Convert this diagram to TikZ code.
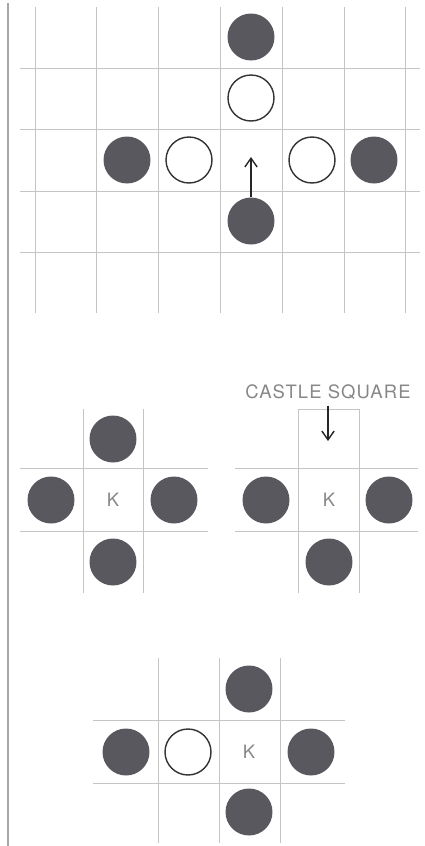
\documentclass[tikz,border=0pt]{standalone}
\usepackage{fontspec}
\usepackage{tikz}
\usetikzlibrary{positioning, arrows.meta}
\usepackage{xcolor}
\newfontfamily\boardfont[LetterSpace=6]{TeX Gyre Heros}
\definecolor{stonegray}{RGB}{88, 88, 94}
\definecolor{gridgray}{RGB}{196, 196, 196}
\definecolor{labelgray}{RGB}{135, 135, 135}

\begin{document}
\begin{tikzpicture}[x=0.02cm, y=-0.02cm, >={Straight Barb[length=5pt, width=7pt]},
    black stone/.style={circle, fill=stonegray, minimum size=0.94cm, inner sep=0pt},
    white stone/.style={circle, draw=black!80, line width=0.8pt, fill=white, minimum size=0.92cm, inner sep=0pt},
    gridline/.style={gridgray, line width=0.5pt},
    kinglabel/.style={font=\fontsize{10.5}{12}\selectfont\boardfont, text=labelgray}]
  \useasboundingbox (0, 0) rectangle (425, 846);
  \draw[black!35, line width=0.6pt] (8, 3) -- (8, 846);

  % capture in the open
  \foreach \x in {35, 96.8, 158.6, 220.4, 282.2, 344, 405.8}
    \draw[gridline] (\x, 7) -- (\x, 313);
  \foreach \y in {68, 129, 191, 252}
    \draw[gridline] (20, \y) -- (420, \y);
  \node[black stone] (b1) at (251, 37)  {};
  \node[white stone] (w1) at (251, 98)  {};
  \node[black stone] (b2) at (127, 160) {};
  \node[white stone] (w2) at (189, 160) {};
  \node[white stone] (w3) at (312, 160) {};
  \node[black stone] (b3) at (374, 160) {};
  \node[black stone] (b4) at (251, 221) {};
  \coordinate (mv) at (251, 157);
  \draw[->, black!85, line width=0.8pt] (b4) -- (mv);

  % king surrounded
  \foreach \x in {83, 143}
    \draw[gridline] (\x, 409) -- (\x, 593);
  \foreach \y in {468, 531}
    \draw[gridline] (20, \y) -- (208, \y);
  \node[kinglabel]   (k1) at (113, 500) {K};
  \node[black stone] (n1) at (113, 439) {};
  \node[black stone] (e1) at (174, 500) {};
  \node[black stone] (s1) at (113, 562) {};
  \node[black stone] (q1) at (51, 500)  {};

  % king next to the castle
  \draw[gridline] (298, 593) -- (298, 409) -- (359, 409) -- (359, 593);
  \foreach \y in {468, 531}
    \draw[gridline] (235, \y) -- (418, \y);
  \node[kinglabel]   (k2) at (329, 500) {K};
  \node[black stone] (e2) at (389, 500) {};
  \node[black stone] (s2) at (329, 562) {};
  \node[black stone] (q2) at (266, 500) {};
  \node[kinglabel] (cs) at (328, 392) {CASTLE SQUARE};
  \coordinate (ct) at (328, 441);
  \draw[->, black!85, line width=0.8pt] (cs.south -| ct) -- (ct);

  % king on the edge of the board
  \foreach \x in {158, 219, 280}
    \draw[gridline] (\x, 658) -- (\x, 843);
  \foreach \y in {720, 783}
    \draw[gridline] (93, \y) -- (345, \y);
  \node[kinglabel]   (k3) at (249, 752) {K};
  \node[black stone] (n3) at (249, 689) {};
  \node[black stone] (e3) at (311, 752) {};
  \node[black stone] (s3) at (249, 812) {};
  \node[white stone] (w4) at (188, 752) {};
  \node[black stone] (q3) at (126, 752) {};
\end{tikzpicture}
\end{document}
